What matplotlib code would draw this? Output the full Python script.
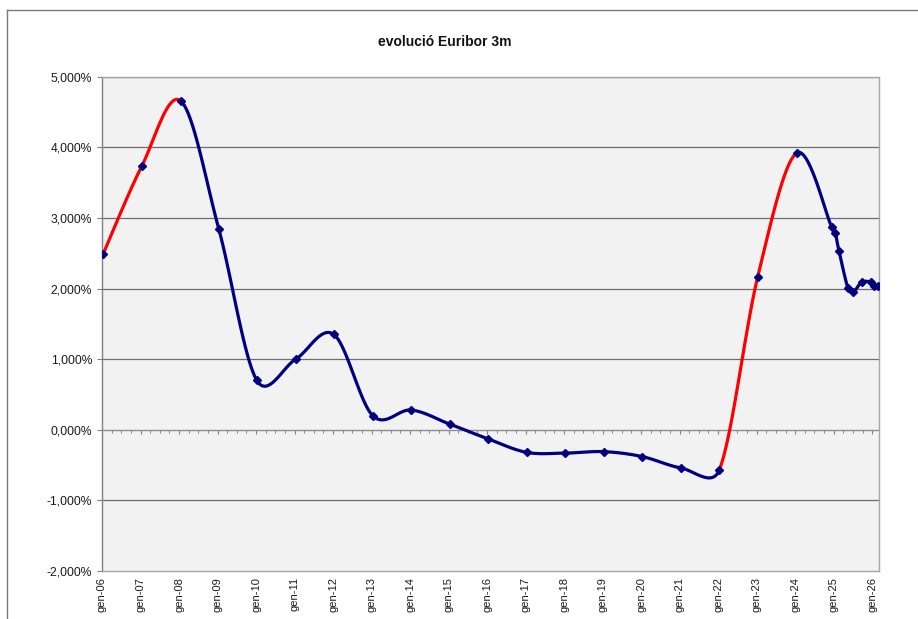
import numpy as np
import matplotlib.pyplot as plt
from matplotlib.lines import Line2D
from matplotlib.ticker import FuncFormatter, MultipleLocator

plt.rcParams['font.family'] = ['Liberation Sans', 'DejaVu Sans']

# Euribor 3m, date as fractional year, value in %
dates = [2006.03, 2007.03, 2008.04, 2009.03, 2010.02, 2011.03, 2012.02, 2013.03,
         2014.03, 2015.03, 2016.03, 2017.03, 2018.03, 2019.04, 2020.03, 2021.03,
         2022.03, 2023.03, 2024.04, 2024.95, 2025.04, 2025.14, 2025.37, 2025.51,
         2025.73, 2025.97, 2026.05, 2026.15]
euribor = [2.49, 3.73, 4.66, 2.85, 0.70, 1.00, 1.35, 0.20,
           0.28, 0.08, -0.13, -0.32, -0.33, -0.31, -0.38, -0.54,
           -0.57, 2.17, 3.92, 2.87, 2.79, 2.53, 2.01, 1.95,
           2.09, 2.09, 2.03, 2.04]
# stretches drawn in red (index of first and last point)
red_spans = [(0, 2), (16, 18)]

tick_years = list(range(2006, 2027))
tick_labels = ["gen-%02d" % (y % 100) for y in tick_years]
y_ticks = [-2, -1, 0, 1, 2, 3, 4, 5]

NAVY = '#000080'
RED = '#FF0000'


# Excel-style smoothed line: Bezier segments, arms limited to half the segment
# (done in pixel space, sx / sy = pixels per unit)
def smooth_segments(x, y, sx, sy, n=30):
    P = np.column_stack([np.asarray(x) * sx, np.asarray(y) * sy])
    pts = np.vstack([P[:1], P, P[-1:]])
    t = np.linspace(0, 1, n)[:, None]
    segs = []
    for i in range(len(x) - 1):
        p0, p1, p2, p3 = pts[i], pts[i + 1], pts[i + 2], pts[i + 3]
        d02 = np.hypot(*(p2 - p0))
        d12 = np.hypot(*(p2 - p1))
        d13 = np.hypot(*(p3 - p1))
        f1 = f2 = 1 / 6
        if d02 > 0 and d02 / 6 >= d12 / 2:
            f1 = d12 / (2 * d02)
        if d13 > 0 and d13 / 6 >= d12 / 2:
            f2 = d12 / (2 * d13)
        c1 = p1 + (p2 - p0) * f1
        c2 = p2 - (p3 - p1) * f2
        seg = ((1 - t) ** 3) * p1 + 3 * ((1 - t) ** 2) * t * c1 \
            + 3 * (1 - t) * t ** 2 * c2 + t ** 3 * p2
        segs.append(seg / [sx, sy])
    return segs


fig = plt.figure(figsize=(9.18, 6.19), dpi=100)
W, H = 918, 619
ax = fig.add_axes([102 / W, 1 - 571 / H, (878.7 - 102) / W, (571 - 76.7) / H])
ax.set_facecolor('#F2F2F2')

segs = smooth_segments(dates, euribor, 38.5, 70.6)
red_idx = set()
for a, b in red_spans:
    red_idx.update(range(a, b))
for i, seg in enumerate(segs):
    c = RED if i in red_idx else NAVY
    ax.plot(seg[:, 0], seg[:, 1], color=c, lw=2.3, solid_capstyle='round', zorder=3)
ax.plot(dates, euribor, linestyle='none', marker='D', markersize=4.2,
        color=NAVY, zorder=5)

ax.set_xlim(2006, 2026.17)
ax.set_ylim(-2, 5)

# gridlines
for v in y_ticks[1:]:
    if v != 0:
        ax.axhline(v, color='#6E6E6E', lw=0.9, zorder=1)

ax.set_yticks(y_ticks)
ax.yaxis.set_major_formatter(FuncFormatter(lambda v, p: ("%.3f" % v).replace('.', ',') + '%'))
ax.tick_params(axis='y', direction='out', length=3.5, width=0.8, color='#808080',
               labelsize=8.7, pad=3.5, labelcolor='#1a1a1a')

ax.set_xticks(tick_years)
ax.set_xticklabels(tick_labels, rotation=90)
ax.tick_params(axis='x', length=0, labelsize=8, pad=4.5, labelcolor='#1a1a1a')

for side in ['top', 'right', 'bottom']:
    ax.spines[side].set_color('#A6A6A6')
    ax.spines[side].set_linewidth(1)
ax.spines['left'].set_color('#808080')
ax.spines['left'].set_linewidth(1)

# category axis crossing at 0 with quarterly ticks
sec = ax.secondary_xaxis(2 / 7)
sec.set_xticks(tick_years)
sec.xaxis.set_minor_locator(MultipleLocator(0.25))
sec.tick_params(which='major', direction='out', length=3, width=0.8, color='#808080',
                labelbottom=False, labeltop=False)
sec.tick_params(which='minor', direction='out', length=1.8, width=0.7, color='#808080')
for s in sec.spines.values():
    s.set_color('#909090')
    s.set_linewidth(1)

# chart area border (top and left visible)
fig.add_artist(Line2D([7 / W, 1], [1 - 10 / H, 1 - 10 / H], transform=fig.transFigure,
                      color='#7a7a7a', lw=1))
fig.add_artist(Line2D([7 / W, 7 / W], [0, 1 - 10 / H], transform=fig.transFigure,
                      color='#7a7a7a', lw=1))

fig.text(445 / W, 1 - 42 / H, 'evolució Euribor 3m', ha='center', va='center',
         fontsize=10, fontweight='bold', color='#111111')

fig.savefig('out.png', dpi=100, facecolor='white')
